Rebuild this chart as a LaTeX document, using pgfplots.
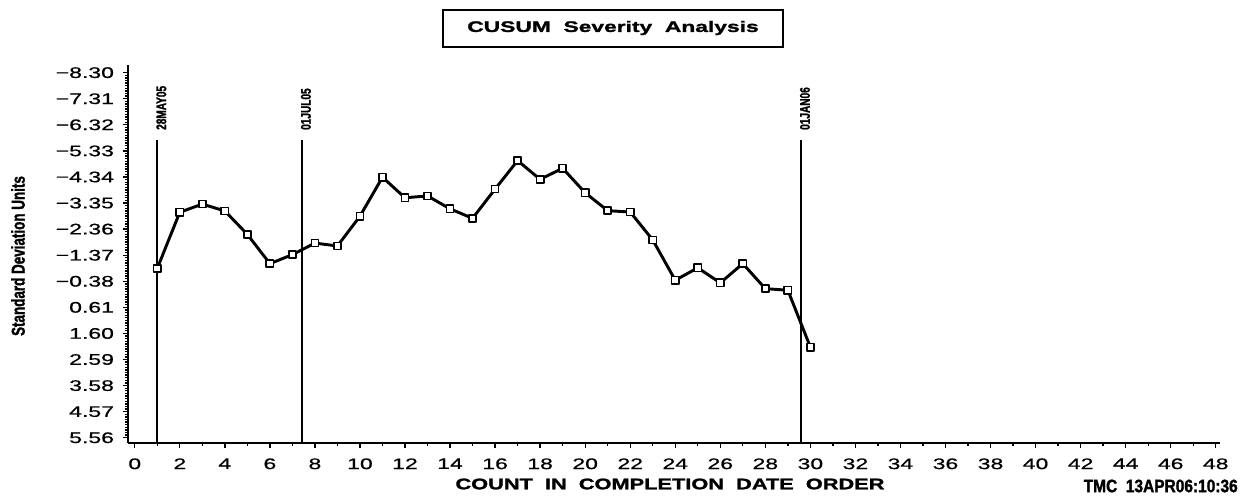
\documentclass[border=0pt]{standalone}
\usepackage{fontspec}
\setmainfont{Liberation Sans}
\usepackage{pgfplots}
\pgfplotsset{compat=1.18}
\newfontfamily\widefont[FakeStretch=1.5, FakeBold=0.6]{Liberation Sans}
\newfontfamily\wideboldfont[FakeStretch=1.42, BoldFeatures={FakeBold=1.6}]{Liberation Sans}
\newfontfamily\titlefont[FakeStretch=1.5, BoldFeatures={FakeBold=1.6}]{Liberation Sans}
\newfontfamily\condfont[FakeStretch=0.72, BoldFeatures={FakeBold=1.4}]{Liberation Sans}
\newfontfamily\tmcfont[FakeStretch=0.86, BoldFeatures={FakeBold=1.6}]{Liberation Sans}
\pgfplotstableread{
x y
1 -0.87
2 -3.00
3 -3.31
4 -3.05
5 -2.16
6 -1.05
7 -1.39
8 -1.83
9 -1.72
10 -2.85
11 -4.33
12 -3.55
13 -3.62
14 -3.13
15 -2.77
16 -3.88
17 -4.96
18 -4.25
19 -4.67
20 -3.74
21 -3.06
22 -3.01
23 -1.95
24 -0.42
25 -0.89
26 -0.32
27 -1.05
28 -0.10
29 -0.04
30 2.12
}\cusum
\begin{document}
\begin{tikzpicture}
\useasboundingbox (-96pt,-42.75pt) rectangle (837pt,332.25pt);
\begin{axis}[
  at={(0,0)}, anchor=south west,
  scale only axis, width=819pt, height=283.5pt,
  xmin=-0.30, xmax=48.19, ymin=-8.59, ymax=5.76, y dir=reverse,
  axis x line=bottom, axis y line=left,
  axis line style={-, line width=1.5pt},
  xtick={0,2,...,48}, minor x tick num=1,
  ytick={-8.30,-7.31,-6.32,-5.33,-4.34,-3.35,-2.36,-1.37,-0.38,0.61,1.60,2.59,3.58,4.57,5.56},
  yticklabels={−8.30,−7.31,−6.32,−5.33,−4.34,−3.35,−2.36,−1.37,−0.38,0.61,1.60,2.59,3.58,4.57,5.56},
  /pgf/number format/assume math mode=true,
  minor y tick num=9,
  tick align=outside,
  major tick length=4pt, minor tick length=2.3pt,
  every tick/.style={black, line width=1pt},
  tick label style={font=\widefont\fontsize{11.5}{13}\selectfont},
  xticklabel style={yshift=-4pt},
  yticklabel style={xshift=-3pt},
  clip=false,
]
\addplot[black, line width=1.2pt] coordinates {(1,-5.74) (1,5.76)};
\addplot[black, line width=1.2pt] coordinates {(7.42,-5.74) (7.42,5.76)};
\addplot[black, line width=1.2pt] coordinates {(29.58,-5.74) (29.58,5.76)};
\addplot[black, line width=2.2pt, line join=round, mark=square*, mark size=2.7pt,
  mark options={fill=white, line width=1.2pt, solid}] table[x=x,y=y] {\cusum};
\node[rotate=90, anchor=west, inner sep=0pt, font=\condfont\bfseries\fontsize{10.5}{12}\selectfont] at (axis cs:1.18,-6.12) {28MAY05};
\node[rotate=90, anchor=west, inner sep=0pt, font=\condfont\bfseries\fontsize{10.5}{12}\selectfont] at (axis cs:7.60,-6.12) {01JUL05};
\node[rotate=90, anchor=west, inner sep=0pt, font=\condfont\bfseries\fontsize{10.5}{12}\selectfont] at (axis cs:29.76,-6.12) {01JAN06};
\end{axis}
\draw[line width=1.5pt] (236.25pt,297pt) rectangle (491.25pt,324.75pt);
\node[font=\titlefont\bfseries\fontsize{11.4}{13}\selectfont] at (363.75pt,311.25pt) {CUSUM\ \ Severity\ \ Analysis};
\node[font=\wideboldfont\bfseries\fontsize{11.5}{13}\selectfont] at (406.5pt,-30.75pt) {COUNT\ \ IN\ \ COMPLETION\ \ DATE\ \ ORDER};
\node[anchor=east, inner sep=0pt, font=\tmcfont\bfseries\fontsize{13.5}{15}\selectfont] at (832.5pt,-32.25pt) {TMC\ \ 13APR06:10:36};
\node[rotate=90, font=\condfont\bfseries\fontsize{14}{16}\selectfont] at (-82.5pt,140.25pt) {Standard Deviation Units};
\end{tikzpicture}
\end{document}
